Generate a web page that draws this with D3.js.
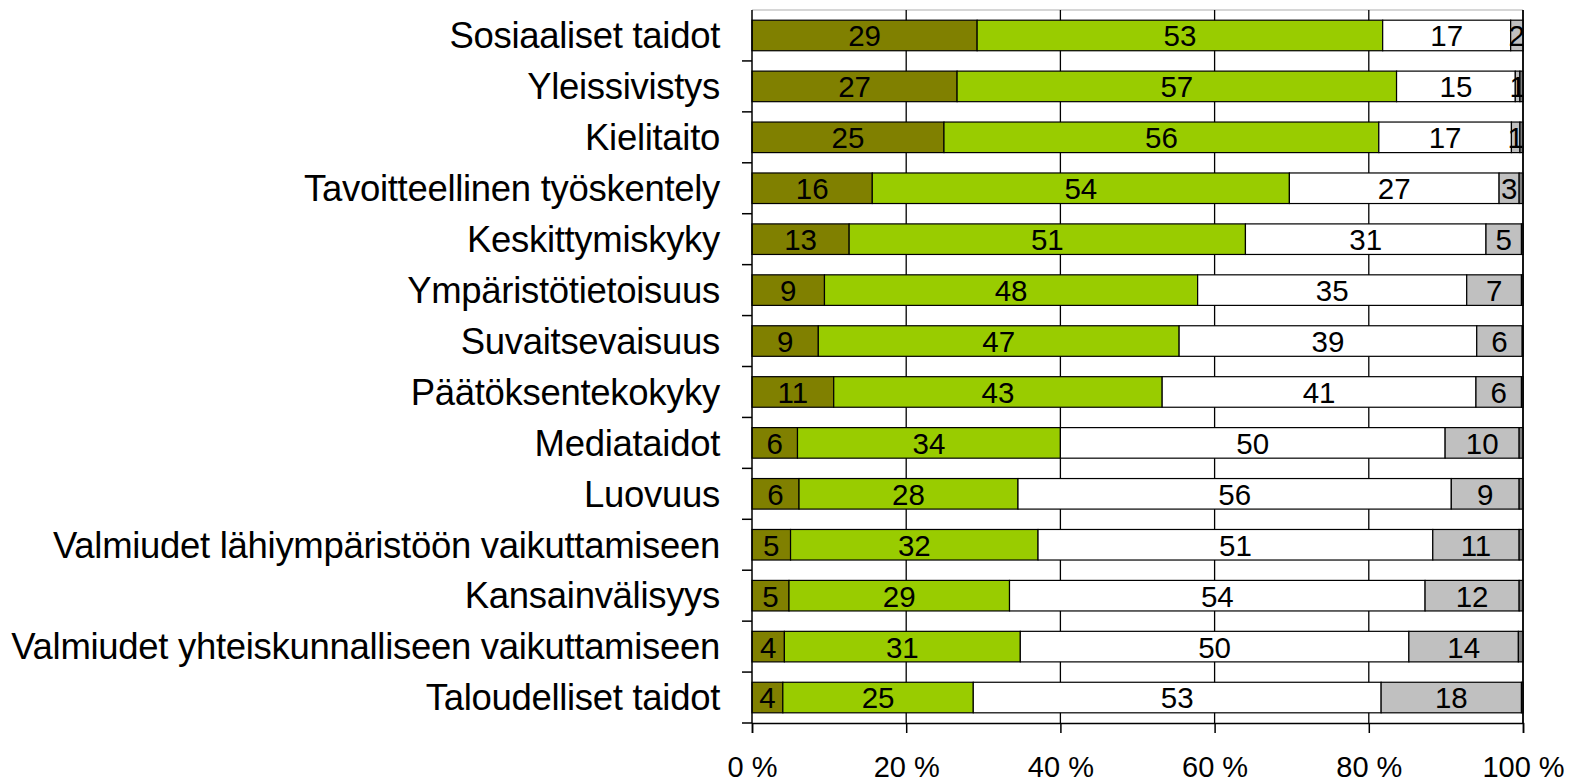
<!DOCTYPE html>
<html>
<head>
<meta charset="utf-8">
<script src="https://d3js.org/d3.v7.min.js"></script>
<style>
  body { margin: 0; background: #fff; }
  text { font-family: "Liberation Sans", Arial, sans-serif; fill: #000; }
</style>
</head>
<body>
<div id="my_dataviz"></div>
<script>

// categories, top to bottom
var categories = ["Sosiaaliset taidot", "Yleissivistys", "Kielitaito",
  "Tavoitteellinen työskentely", "Keskittymiskyky", "Ympäristötietoisuus",
  "Suvaitsevaisuus", "Päätöksentekokyky", "Mediataidot", "Luovuus",
  "Valmiudet lähiympäristöön vaikuttamiseen", "Kansainvälisyys",
  "Valmiudet yhteiskunnalliseen vaikuttamiseen", "Taloudelliset taidot"]

// series values (%)
var val1 = [29.2, 26.6, 24.9, 15.6, 12.6, 9.4, 8.6, 10.6, 5.9, 6.1, 5.0, 4.8, 4.2, 4.0]
var val2 = [52.6, 57.0, 56.4, 54.1, 51.4, 48.4, 46.8, 42.6, 34.1, 28.4, 32.1, 28.6, 30.6, 24.7]
var val3 = [16.6, 15.4, 17.2, 27.2, 31.2, 34.9, 38.6, 40.7, 49.9, 56.2, 51.2, 53.9, 50.4, 52.9]
var val4 = [1.6, 0.6, 1.1, 2.6, 4.6, 7.1, 5.9, 5.9, 9.6, 8.8, 11.2, 12.2, 14.2, 18.2]
var val5 = [0, 0.4, 0.4, 0.5, 0.2, 0.2, 0.1, 0.2, 0.5, 0.5, 0.5, 0.5, 0.6, 0.2]

var xTicks = [0, 20, 40, 60, 80, 100]

var keys = ["v1", "v2", "v3", "v4", "v5"]
var colors = ["#808000", "#99cc00", "#ffffff", "#c0c0c0", "#808080"]

var rows = categories.map(function(c, i) {
  return {cat: c, v1: val1[i], v2: val2[i], v3: val3[i], v4: val4[i], v5: val5[i]}
})

var margin = {top: 10, right: 56, bottom: 61, left: 752},
    width = 1579 - margin.left - margin.right,
    height = 784 - margin.top - margin.bottom;

var svg = d3.select("#my_dataviz")
  .append("svg")
    .attr("width", width + margin.left + margin.right)
    .attr("height", height + margin.top + margin.bottom)
  .append("g")
    .attr("transform", "translate(" + margin.left + "," + margin.top + ")");

var x = d3.scaleLinear()
  .domain([0, 100])
  .range([0, width]);

var y = d3.scaleBand()
  .domain(categories)
  .range([0, height])
  .paddingInner(0.4)
  .paddingOuter(0.2);

svg.append("clipPath")
  .attr("id", "plotclip")
  .append("rect")
    .attr("x", 0).attr("y", 0)
    .attr("width", width).attr("height", height);

// top border (light)
svg.append("line")
  .attr("x1", 0).attr("x2", width)
  .attr("y1", 0).attr("y2", 0)
  .attr("stroke", "#c8c8c8")
  .attr("stroke-width", 1.5);

// vertical gridlines
svg.selectAll(".grid")
  .data(xTicks.slice(1))
  .enter()
  .append("line")
    .attr("class", "grid")
    .attr("x1", function(d) { return x(d); })
    .attr("x2", function(d) { return x(d); })
    .attr("y1", 0)
    .attr("y2", height)
    .attr("stroke", "#000")
    .attr("stroke-width", 1.3);

var stacked = d3.stack().keys(keys)(rows);

var layer = svg.selectAll(".layer")
  .data(stacked)
  .enter()
  .append("g")
    .attr("class", "layer")
    .attr("fill", function(d, i) { return colors[i]; });

layer.selectAll("rect")
  .data(function(d) { return d; })
  .enter()
  .append("rect")
    .attr("x", function(d) { return x(d[0]); })
    .attr("y", function(d) { return y(d.data.cat); })
    .attr("width", function(d) { return x(d[1]) - x(d[0]); })
    .attr("height", y.bandwidth())
    .attr("stroke", "#000")
    .attr("stroke-width", 1.2);

// value labels (not for the last, tiny series)
var labels = svg.append("g").attr("clip-path", "url(#plotclip)");

stacked.slice(0, 4).forEach(function(s) {
  labels.selectAll(null)
    .data(s.filter(function(d) { return d[1] - d[0] > 0; }))
    .enter()
    .append("text")
      .attr("x", function(d) { return x((d[0] + d[1]) / 2); })
      .attr("y", function(d) { return y(d.data.cat) + y.bandwidth() / 2; })
      .attr("dy", "0.37em")
      .attr("text-anchor", "middle")
      .style("font-size", "29.5px")
      .text(function(d) { return Math.round(d[1] - d[0]); });
});

// y axis: line, ticks at band boundaries, labels
var step = y.step();
svg.append("line")
  .attr("x1", 0).attr("x2", 0)
  .attr("y1", 0).attr("y2", height)
  .attr("stroke", "#000").attr("stroke-width", 1.5);

svg.selectAll(".ytick")
  .data(categories)
  .enter()
  .append("line")
    .attr("class", "ytick")
    .attr("x1", -10).attr("x2", 0)
    .attr("y1", function(d) { return y(d) - step * y.paddingOuter() + step; })
    .attr("y2", function(d) { return y(d) - step * y.paddingOuter() + step; })
    .attr("stroke", "#000").attr("stroke-width", 1.5);

svg.selectAll(".ylabel")
  .data(categories)
  .enter()
  .append("text")
    .attr("class", "ylabel")
    .attr("x", -32)
    .attr("y", function(d) { return y(d) + y.bandwidth() / 2; })
    .attr("dy", "0.35em")
    .attr("text-anchor", "end")
    .style("font-size", "36.5px")
    .style("letter-spacing", "-0.3px")
    .text(function(d) { return d; });

// right border
svg.append("line")
  .attr("x1", width).attr("x2", width)
  .attr("y1", 0).attr("y2", height)
  .attr("stroke", "#000").attr("stroke-width", 1.5);

// x axis
var xAxis = svg.append("g")
  .attr("transform", "translate(0," + height + ")")
  .call(d3.axisBottom(x)
    .tickValues(xTicks)
    .tickSize(10)
    .tickPadding(23)
    .tickFormat(function(d) { return d + " %"; }));

xAxis.select(".domain").attr("stroke", "#000").attr("stroke-width", 1.5);
xAxis.selectAll(".tick line").attr("stroke", "#000").attr("stroke-width", 1.5);
xAxis.selectAll(".tick text")
  .style("font-size", "29px")
  .style("font-family", "'Liberation Sans', Arial, sans-serif")
  .attr("fill", "#000");

</script>
</body>
</html>
